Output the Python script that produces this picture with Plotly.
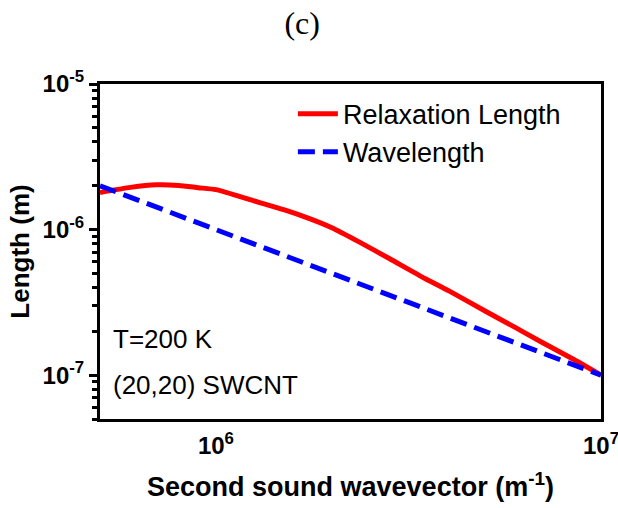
import math
import plotly.graph_objects as go

# Data
k_relax = [5e5, 6e5, 7e5, 8e5, 9e5, 1e6, 1.25e6, 1.5e6, 1.75e6, 2e6, 2.36e6, 2.82e6,
           3.5e6, 4.04e6, 5e6, 6e6, 7e6, 8.5e6, 1e7]
relax_len = [1.80e-6, 1.95e-6, 2.03e-6, 2.01e-6, 1.94e-6, 1.88e-6, 1.58e-6, 1.37e-6,
             1.19e-6, 1.03e-6, 8.2e-7, 6.33e-7, 4.6e-7, 3.78e-7, 2.76e-7, 2.12e-7,
             1.69e-7, 1.28e-7, 1.0e-7]
k_wave = [5e5, 1e6, 2e6, 5e6, 1e7]
wave_len = [2e-6, 1e-6, 5e-7, 2e-7, 1e-7]

x_major = [1e6, 1e7]
x_major_text = ["<b>10<sup>6</sup></b>", "<b>10<sup>7</sup></b>"]
x_minor = [6e5, 7e5, 8e5, 9e5, 2e6, 3e6, 4e6, 5e6, 6e6, 7e6, 8e6, 9e6]
y_tickvals = [1e-7, 1e-6, 1e-5]
y_ticktext = ["<b>10<sup>-7</sup></b>", "<b>10<sup>-6</sup></b>", "<b>10<sup>-5</sup></b>"]
y_minor = [m * 10.0 ** e for e in (-8, -7, -6) for m in range(2, 10) if m * 10.0 ** e >= 5e-8]

FONT = "Liberation Sans, Arial, sans-serif"
TICK = dict(color="black", width=3)

fig = go.Figure()
fig.add_trace(go.Scatter(x=k_relax, y=relax_len, mode="lines", name="Relaxation Length",
                         line=dict(color="#ff0000", width=5, shape="spline", smoothing=0.6)))
fig.add_trace(go.Scatter(x=k_wave, y=wave_len, mode="lines", name="Wavelength",
                         line=dict(color="#0000ff", width=5, dash="17px,8px")))

xr = [5.69897, 7]
yr = [-7.30103, -5]

axis_common = dict(type="log", showline=True, linecolor="black", linewidth=3,
                   tickcolor="black", tickwidth=3, showgrid=False, zeroline=False,
                   automargin=False, mirror=True)

fig.update_layout(
    width=618, height=508,
    margin=dict(l=100, r=17, t=84, b=89, autoexpand=False),
    paper_bgcolor="white", plot_bgcolor="white",
    title=dict(text="(c)", x=0.489, xref="container", xanchor="center", y=0.955, yref="container",
               yanchor="middle", automargin=False,
               font=dict(family="Liberation Serif, Times New Roman, serif", size=32, color="black")),
    xaxis=dict(**axis_common, range=xr, ticks="",
               tickmode="array", tickvals=x_major, ticktext=x_major_text,
               tickfont=dict(family=FONT, size=24, color="black"), ticklabeloverflow="allow",
               ticklabelstandoff=3,
               title=dict(text="<b>Second sound wavevector (m<sup>-1</sup>)</b>", standoff=20,
                          font=dict(family=FONT, size=27, color="black"))),
    yaxis=dict(**axis_common, range=yr, ticks="outside", ticklen=8,
               tickmode="array", tickvals=y_tickvals, ticktext=y_ticktext,
               tickfont=dict(family=FONT, size=24, color="black"), ticklabeloverflow="allow",
               minor=dict(tickmode="array", tickvals=y_minor, ticks="outside", ticklen=5,
                          tickwidth=3, tickcolor="black", showgrid=False),
               title=dict(text="<b>Length (m)</b>", standoff=6,
                          font=dict(family=FONT, size=26, color="black"))),
    legend=dict(x=0.385, y=0.983, xanchor="left", yanchor="top", bgcolor="rgba(0,0,0,0)",
                font=dict(family=FONT, size=27, color="black"), itemwidth=40,
                tracegroupgap=0),
    showlegend=True,
)

# Axis tick marks placed through the axis scales (log axes take log10 positions)
for vals, ln in ((x_major, 8), (x_minor, 5)):
    for v in vals:
        lv = math.log10(v)
        # bottom: outward
        fig.add_shape(type="line", xref="x", yref="paper", ysizemode="pixel", yanchor=0,
                      x0=lv, x1=lv, y0=0, y1=-ln, line=TICK)
        # top: inward
        fig.add_shape(type="line", xref="x", yref="paper", ysizemode="pixel", yanchor=1,
                      x0=lv, x1=lv, y0=0, y1=-ln, line=TICK)
for vals, ln in ((y_tickvals, 8), (y_minor, 5)):
    for v in vals:
        lv = math.log10(v)
        # right: inward
        fig.add_shape(type="line", xref="paper", yref="y", xsizemode="pixel", xanchor=1,
                      x0=0, x1=-ln, y0=lv, y1=lv, line=TICK)

fig.add_annotation(text="T=200 K", xref="paper", yref="paper", x=0.022, y=0.239,
                   xanchor="left", yanchor="middle", showarrow=False,
                   font=dict(family=FONT, size=26, color="black"))
fig.add_annotation(text="(20,20) SWCNT", xref="paper", yref="paper", x=0.022, y=0.1015,
                   xanchor="left", yanchor="middle", showarrow=False,
                   font=dict(family=FONT, size=26, color="black"))

fig.write_html("out.html", config={"displayModeBar": False},
               post_script="document.body.style.margin='0';")
